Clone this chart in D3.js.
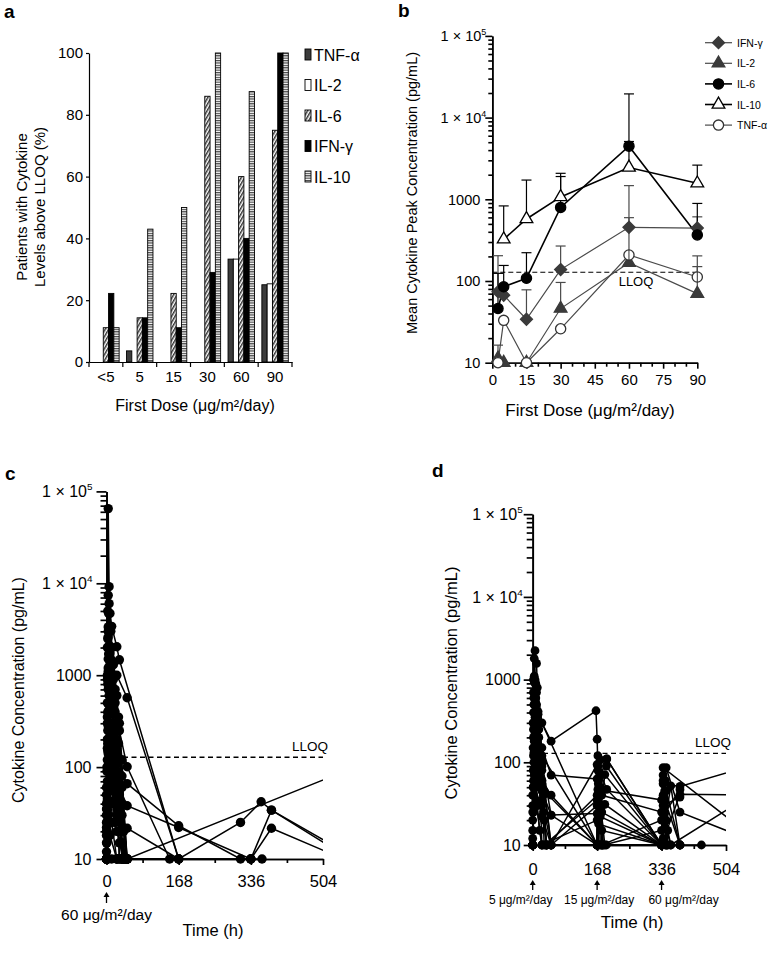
<!DOCTYPE html>
<html><head><meta charset="utf-8">
<script src="https://cdn.jsdelivr.net/npm/d3@7"></script>
<style>
body{margin:0;background:#fff}
text{font-family:"Liberation Sans",Arial,sans-serif;fill:#000}
</style>
</head><body>
<svg id="fig" width="774" height="955"></svg>
<script>
// ---------------- DATA ----------------
// Panel a: % patients with cytokine levels above LLOQ
const barCategories = ["<5","5","15","30","60","90"];
const barSeries = ["TNF-α","IL-2","IL-6","IFN-γ","IL-10"];
const barTNF  = [0, 3.6, 0, 0, 33.3, 25];
const barIL2  = [0, 0, 0, 0, 33.3, 25.3];
const barIL6  = [11.1, 14.3, 22.2, 86, 60, 75];
const barIFN  = [22.2, 14.3, 11.1, 29, 40, 100];
const barIL10 = [11.1, 43, 50, 100, 87.5, 100];
const barYTicks = [0, 20, 40, 60, 80, 100];

// Panel b: mean cytokine peak concentration vs first dose
const peakDoses = [2.5, 5, 15, 30, 60, 90];
const peakIFN   = [74, 67, 34, 138, 454, 445];
const peakIL2   = [11.3, 10, 10, 46, 167, 70];
const peakIL6   = [46, 85, 108, 796, 4470, 366];
const peakIL10  = [null, 324, 574, 1070, 2450, 1570];
const peakTNF   = [10, 33, 10, 26, 208, 112];
const errIFN    = [204, null, 78, 268, 1470, 610];
const errIL2    = [16.4, null, null, 96, null, 150];
const errIL6    = [124, 155, 222, 1900, 19500, 890];
const errIL10   = [null, 830, 1720, 2080, 5100, 2620];
const errTNF    = [null, null, null, null, 596, 203];
const peakLegend = ["IFN-γ","IL-2","IL-6","IL-10","TNF-α"];
const doseTicks = [0, 15, 30, 45, 60, 75, 90];
const doseMinorTicks = [5, 10, 20, 25, 35, 40, 50, 55, 65, 70, 80, 85];
const logMajorTicks = [10, 100, 1000, 10000, 100000];
const LLOQ = 128;

// Panel c: individual cytokine profiles, 60 µg/m²/day (time h, pg/mL)
const seriesC = [
  [[0,10],[2,2000],[4,65000],[6,9200],[8,4700],[12,2000],[24,600],[48,10]],
  [[0,10],[2,900],[4,7400],[6,6000],[12,3400],[24,2040],[30,1470],[168,10]],
  [[0,20],[2,350],[4,3350],[8,1800],[12,1050],[24,1000],[48,569],[168,10]],
  [[0,30],[2,200],[4,1200],[8,700],[24,300],[30,249],[48,101],[147,10]],
  [[0,10],[2,120],[4,500],[6,380],[12,200],[24,110],[48,66],[168,23],[312,10],[336,10]],
  [[0,15],[2,70],[4,280],[8,150],[24,70],[48,38],[168,22],[336,10],[362,10]],
  [[0,10],[2,45],[4,140],[6,90],[12,55],[24,35],[48,21.6],[168,10]],
  [[0,10],[2,25],[4,60],[8,40],[24,20],[48,10],[168,10],[312,25],[360,42],[384,34],[600,9]],
  [[0,10],[4,30],[8,18],[24,10],[48,10],[600,110]],
  [[0,12],[2,500],[4,2600],[6,1900],[12,800],[24,250],[36,10]],
  [[0,10],[1,90],[4,1500],[8,950],[12,420],[24,120],[30,10]],
  [[0,50],[2,160],[4,380],[8,220],[12,100],[24,45],[30,10]],
  [[0,10],[2,20],[4,10],[12,10],[24,10],[48,10],[336,10],[384,21.6],[600,8]],
  [[0,10],[4,700],[6,420],[24,160],[30,85],[36,10]],
  [[0,25],[2,1000],[4,3000],[8,1700],[12,600],[24,130],[36,40],[48,10]],
  [[0,10],[6,40],[12,25],[24,10],[336,10],[384,34],[600,8]],
  [[0,40],[2,300],[4,1100],[6,2100],[8,1300],[12,500],[24,200],[30,60],[36,10]],
  [[0,10],[2,60],[4,180],[8,90],[24,30],[36,15],[48,10]],
  [[0,10],[3,400],[6,1200],[10,800],[16,400],[20,250],[30,120],[36,60],[48,10]],
  [[0,18],[1,35],[3,90],[8,300],[16,180],[24,90],[36,30],[48,10]],
  [[0,10],[3,800],[5,4700],[10,3000],[16,1300],[20,700],[30,300],[40,10]],
  [[0,22],[3,150],[6,600],[10,450],[16,260],[20,140],[30,50],[40,20],[48,10]],
  [[0,10],[1,15],[3,45],[5,110],[10,70],[16,40],[20,25],[30,15],[40,10]],
  [[0,10],[3,2500],[5,1700],[10,1200],[16,900],[20,500],[28,350],[36,120],[44,10]],
  [[0,35],[1,100],[3,250],[6,180],[10,120],[16,80],[20,55],[28,30],[36,10]],
  [[0,10],[2,10],[3,30],[6,60],[10,150],[16,90],[24,50],[32,25],[40,10]],
  [[0,10],[3,5000],[5,3000],[10,1500],[16,700],[20,400],[28,180],[36,80],[44,10]],
  [[0,60],[3,180],[6,120],[10,90],[16,60],[20,40],[32,20],[44,10]]
];
// Panel d: individual cytokine profiles, step dosing 5/15/60
const seriesD = [
  [[0,10],[2,250],[6,2240],[10,1570],[12,800],[24,300],[48,180],[165,420],[168,190],[176,10],[192,10],[336,10],[384,10]],
  [[0,10],[2,120],[4,950],[8,600],[24,150],[48,70],[168,63],[172,10],[336,10],[340,55],[384,51],[600,100]],
  [[0,20],[2,80],[4,400],[8,300],[24,60],[48,40],[168,10],[170,120],[193,110],[336,10],[384,41],[600,40]],
  [[0,10],[4,300],[8,180],[24,45],[48,23],[168,24],[188,31],[336,10],[348,86],[384,25],[600,10]],
  [[0,10],[2,40],[4,150],[14,410],[24,120],[168,10],[188,71],[336,10],[340,86],[600,10]],
  [[0,10],[2,60],[4,250],[8,100],[24,35],[48,10],[168,94],[193,47],[336,10],[360,52],[384,10],[440,10]],
  [[0,30],[2,700],[4,1100],[6,500],[12,200],[24,80],[48,10],[168,10],[170,47],[336,35],[360,10],[600,50]],
  [[0,10],[1,300],[2,1000],[4,600],[8,250],[24,90],[48,10],[168,10],[176,107],[192,90],[336,10],[348,45],[384,10]],
  [[0,15],[2,50],[4,180],[8,400],[14,380],[168,10],[180,10],[336,10],[344,24],[384,47]],
  [[0,10],[4,80],[8,50],[24,22],[48,10],[168,10],[172,60],[193,110],[336,10],[338,10]],
  [[0,40],[2,200],[4,500],[6,350],[24,100],[48,23],[168,10],[336,10],[340,40],[384,10]],
  [[0,10],[2,25],[4,70],[8,35],[24,10],[48,10],[168,30],[180,40],[336,25],[360,10]],
  [[0,10],[2,400],[4,1800],[8,900],[12,400],[24,10],[168,10],[176,22],[336,10],[340,30],[384,38]],
  [[0,10],[2,30],[4,120],[6,220],[12,70],[24,30],[36,10],[168,40],[172,18],[336,10]],
  [[0,10],[1,150],[3,600],[6,900],[10,500],[16,200],[20,90],[28,40],[36,10],[168,10],[170,80],[176,50],[180,25],[336,10],[340,60],[344,35],[348,10]],
  [[0,12],[3,300],[5,700],[10,350],[16,150],[24,60],[30,20],[36,10],[168,10],[172,40],[178,28],[188,10],[336,10],[338,20],[344,45],[352,15]],
  [[0,10],[3,100],[6,400],[10,220],[16,120],[24,55],[30,10],[168,35],[170,90],[176,70],[184,10],[336,15],[340,70],[344,30],[350,10]],
  [[0,25],[2,80],[5,200],[10,160],[16,90],[20,50],[28,25],[36,10],[168,10],[171,55],[175,30],[180,15],[336,10],[342,25],[346,60],[352,10]],
  [[0,10],[3,500],[6,1000],[10,700],[16,250],[24,100],[30,45],[168,10],[170,30],[174,75],[182,10],[336,10],[341,40],[348,20]],
  [[0,10],[1,50],[3,130],[6,60],[12,30],[18,15],[24,10],[168,20],[172,45],[180,10],[336,20],[340,12],[346,10]]
];
const timeTicks = [0, 168, 336, 504];
const timeMinorTicks = [84, 252, 420];
const doseLabelsD = ["5 μg/m²/day","15 μg/m²/day","60 μg/m²/day"];
const doseTimesD = [0, 168, 336];

// ---------------- DRAWING ----------------
const svg = d3.select("#fig");
const defs = svg.append("defs");
const hatch = defs.append("pattern").attr("id","hatch").attr("patternUnits","userSpaceOnUse")
  .attr("width",3).attr("height",3).attr("patternTransform","rotate(30)");
hatch.append("rect").attr("width",3).attr("height",3).attr("fill","#fff");
hatch.append("line").attr("x1",0.8).attr("x2",0.8).attr("y1",0).attr("y2",3).attr("stroke","#000").attr("stroke-width",1.2);
const hs = defs.append("pattern").attr("id","hstripe").attr("patternUnits","userSpaceOnUse")
  .attr("width",4).attr("height",2.4);
hs.append("rect").attr("width",4).attr("height",2.4).attr("fill","#fff");
hs.append("line").attr("x1",0).attr("x2",4).attr("y1",0.6).attr("y2",0.6).attr("stroke","#444").attr("stroke-width",1.2);

function styleAxis(g, w){
  g.select(".domain").attr("stroke","#000").attr("stroke-width",w);
  g.selectAll(".tick line").attr("stroke","#000").attr("stroke-width",w);
}
function panelLabel(t,x,y){
  svg.append("text").attr("x",x).attr("y",y).attr("font-size",19).attr("font-weight","bold").text(t);
}

// ===== Panel a =====
{
  const xA = d3.scaleBand().domain(barCategories).range([89,292]);
  const xIn = d3.scaleBand().domain(barSeries).range([0,xA.bandwidth()]).paddingOuter(0.7);
  const yA = d3.scaleLinear().domain([0,100]).range([362,53]);
  const vals = [barTNF, barIL2, barIL6, barIFN, barIL10];
  const fills = ["#3c3c3c","#fff","url(#hatch)","#000","url(#hstripe)"];
  const g = svg.append("g");
  barSeries.forEach((s,si)=>{
    g.append("g").selectAll("rect").data(barCategories.map((c,i)=>({c,v:vals[si][i]})).filter(d=>d.v>0))
      .join("rect")
      .attr("x",d=>xA(d.c)+xIn(s)).attr("width",xIn.bandwidth())
      .attr("y",d=>yA(d.v)).attr("height",d=>yA(0)-yA(d.v))
      .attr("fill",fills[si]).attr("stroke","#000").attr("stroke-width",0.9);
  });
  const ya = g.append("g").attr("transform","translate(89,0)")
    .call(d3.axisLeft(yA).tickValues(barYTicks).tickSize(3).tickPadding(3).tickSizeOuter(0));
  styleAxis(ya,1.2); ya.selectAll("text").attr("font-size",15).attr("font-family",'"Liberation Sans",Arial,sans-serif');
  const xa = g.append("g").attr("transform","translate(0,362)")
    .call(d3.axisBottom(xA).tickSize(0).tickPadding(9.5).tickSizeOuter(0));
  styleAxis(xa,1.2); xa.selectAll("text").attr("font-size",15).attr("font-family",'"Liberation Sans",Arial,sans-serif');
  const bounds = barCategories.map(c=>xA(c)).concat([xA.range()[1]]);
  g.append("g").selectAll("line").data(bounds).join("line")
    .attr("x1",d=>d).attr("x2",d=>d).attr("y1",362).attr("y2",367).attr("stroke","#000").attr("stroke-width",1.2);
  const lg = g.append("g");
  barSeries.forEach((s,i)=>{
    const y = 55 + i*30.5;
    lg.append("rect").attr("x",305).attr("y",y-6).attr("width",6).attr("height",11)
      .attr("fill",fills[i]).attr("stroke","#000").attr("stroke-width",0.9);
    lg.append("text").attr("x",314).attr("y",y+5.5).attr("font-size",16).text(s);
  });
  g.append("text").attr("x",195).attr("y",411).attr("text-anchor","middle").attr("font-size",16).text("First Dose (μg/m²/day)");
  const yl = g.append("text").attr("transform","translate(27,207) rotate(-90)").attr("text-anchor","middle").attr("font-size",15);
  yl.append("tspan").attr("x",0).attr("dy",0).text("Patients with Cytokine");
  yl.append("tspan").attr("x",0).attr("dy",18).text("Levels above LLOQ (%)");
  panelLabel("a",4,18);
}

function logAxis(g, y, x, o){
  const minors = [];
  for (let e=1;e<5;e++) for (let m=2;m<10;m++) minors.push(m*Math.pow(10,e));
  const mg = g.append("g").attr("transform",`translate(${x},0)`)
    .call(d3.axisLeft(y).tickValues(minors).tickSize(o.minor).tickSizeOuter(0).tickFormat(""));
  styleAxis(mg,o.w);
  const ag = g.append("g").attr("transform",`translate(${x},0)`)
    .call(d3.axisLeft(y).tickValues(logMajorTicks).tickSize(o.major).tickSizeOuter(0).tickFormat(""));
  styleAxis(ag,o.w);
  logMajorTicks.forEach(v=>{
    const t = g.append("text").attr("text-anchor","end").attr("font-size",o.fs).attr("y",y(v)+o.fs*0.36);
    if (v < 1e4){ t.attr("x",x-o.gap).text(String(v)); }
    else {
      t.attr("x",x-o.gap2).text("1 × 10");
      t.append("tspan").attr("dy",-o.fs*0.42).attr("font-size",o.fs*0.62).text(Math.round(Math.log10(v)));
    }
  });
}
function linearTimeAxis(g, xs, yb, o){
  const mg = g.append("g").attr("transform",`translate(0,${yb})`)
    .call(d3.axisBottom(xs).tickValues(timeMinorTicks).tickSize(4).tickSizeOuter(0).tickFormat(""));
  styleAxis(mg,o.w);
  const ag = g.append("g").attr("transform",`translate(0,${yb})`)
    .call(d3.axisBottom(xs).tickValues(timeTicks).tickSize(6).tickPadding(o.pad).tickSizeOuter(0));
  styleAxis(ag,o.w);
  ag.selectAll("text").attr("font-size",o.fs).attr("font-family",'"Liberation Sans",Arial,sans-serif');
}
function arrow(g,x,y1,y2){
  g.append("line").attr("x1",x).attr("x2",x).attr("y1",y1+3).attr("y2",y2).attr("stroke","#000").attr("stroke-width",1.3);
  g.append("path").attr("d",`M${x-3},${y1+4}L${x},${y1-1}L${x+3},${y1+4}Z`).attr("fill","#000");
}

// ===== Panel b =====
{
  const g = svg.append("g");
  const xB = d3.scaleLinear().domain([0,90]).range([492.3,697.3]);
  const yB = d3.scaleLog().domain([10,1e5]).range([362.7,35.9]);
  const xm = g.append("g").attr("transform","translate(0,362.7)")
    .call(d3.axisBottom(xB).tickValues(doseMinorTicks).tickSize(4).tickSizeOuter(0).tickFormat(""));
  styleAxis(xm,1.6);
  const xa = g.append("g").attr("transform","translate(0,362.7)")
    .call(d3.axisBottom(xB).tickValues(doseTicks).tickSize(6).tickPadding(6).tickSizeOuter(0));
  styleAxis(xa,1.6); xa.selectAll("text").attr("font-size",15).attr("font-family",'"Liberation Sans",Arial,sans-serif');
  logAxis(g, yB, 492.3, {minor:4, major:7, w:1.6, fs:14.5, gap:12, gap2:6});
  g.append("line").attr("x1",xB(0)).attr("x2",xB(90)).attr("y1",yB(LLOQ)).attr("y2",yB(LLOQ))
    .attr("stroke","#000").attr("stroke-width",1.2).attr("stroke-dasharray","5,3");
  g.append("text").attr("x",636).attr("y",yB(LLOQ)+14).attr("text-anchor","middle").attr("font-size",13).text("LLOQ");

  const series = [
    {name:"IFN-γ", v:peakIFN, e:errIFN, sym:"diamond", fill:"#3a3a3a", stroke:"#3a3a3a", line:"#4a4a4a", lw:1.2},
    {name:"IL-2",  v:peakIL2, e:errIL2, sym:"tri",     fill:"#3a3a3a", stroke:"#3a3a3a", line:"#4a4a4a", lw:1.2},
    {name:"IL-6",  v:peakIL6, e:errIL6, sym:"circle",  fill:"#000",    stroke:"#000",    line:"#000",    lw:1.6},
    {name:"IL-10", v:peakIL10,e:errIL10,sym:"tri",     fill:"#fff",    stroke:"#000",    line:"#000",    lw:1.6},
    {name:"TNF-α", v:peakTNF, e:errTNF, sym:"circle",  fill:"#fff",    stroke:"#333",    line:"#4a4a4a", lw:1.2}
  ];
  const symPath = {
    diamond: "M0,-6L6,0L0,6L-6,0Z",
    tri: d3.symbol(d3.symbolTriangle, 70)(),
    circle: d3.symbol(d3.symbolCircle, 82)()
  };
  const line = d3.line().defined(d=>d[1]!=null).x(d=>xB(d[0])).y(d=>yB(d[1]));
  series.forEach(s=>{
    g.append("path").datum(peakDoses.map((x,i)=>[x,s.v[i]])).attr("d",line)
      .attr("fill","none").attr("stroke",s.line).attr("stroke-width",s.lw);
  });
  function errBars(s){
    peakDoses.forEach((x,i)=>{
      if (s.e[i]==null || s.v[i]==null) return;
      g.append("line").attr("x1",xB(x)).attr("x2",xB(x)).attr("y1",yB(s.v[i])).attr("y2",yB(s.e[i]))
        .attr("stroke",s.line).attr("stroke-width",1.2);
      g.append("line").attr("x1",xB(x)-5).attr("x2",xB(x)+5).attr("y1",yB(s.e[i])).attr("y2",yB(s.e[i]))
        .attr("stroke",s.line).attr("stroke-width",1.2);
    });
  }
  series.forEach(s=>errBars(s));
  series.forEach(s=>{
    g.append("g").selectAll("path").data(peakDoses.map((x,i)=>[x,s.v[i]]).filter(d=>d[1]!=null)).join("path")
      .attr("d",symPath[s.sym]).attr("transform",d=>`translate(${xB(d[0])},${yB(d[1])})`)
      .attr("fill",s.fill).attr("stroke",s.stroke).attr("stroke-width",1.3);
  });
  peakDoses.forEach((x,i)=>{
    if (errTNF[i]!=null) g.append("line").attr("x1",xB(x)).attr("x2",xB(x)).attr("y1",yB(peakTNF[i])+5).attr("y2",yB(peakTNF[i])-5).attr("stroke","#333").attr("stroke-width",1);
  });
  series.forEach((s,i)=>{
    const y = 42.7 + i*20.6;
    g.append("line").attr("x1",705).attr("x2",732).attr("y1",y).attr("y2",y).attr("stroke",s.line).attr("stroke-width",s.lw);
    g.append("path").attr("d",symPath[s.sym]).attr("transform",`translate(718.5,${y})`)
      .attr("fill",s.fill).attr("stroke",s.stroke).attr("stroke-width",1.3);
    g.append("text").attr("x",737).attr("y",y+4).attr("font-size",10.5).text(peakLegend[i]);
  });
  g.append("text").attr("x",590).attr("y",416).attr("text-anchor","middle").attr("font-size",17).text("First Dose (μg/m²/day)");
  g.append("text").attr("transform","translate(417,193) rotate(-90)").attr("text-anchor","middle").attr("font-size",14.5)
    .text("Mean Cytokine Peak Concentration (pg/mL)");
  panelLabel("b",398,17);
}

function spaghetti(g, data, xs, ys, r, id){
  const x504 = xs(504);
  defs.append("clipPath").attr("id",id).append("rect").attr("x",0).attr("y",0).attr("width",x504).attr("height",955);
  const line = d3.line().x(d=>xs(d[0])).y(d=>ys(d[1]));
  const lg = g.append("g").attr("clip-path",`url(#${id})`);
  lg.selectAll("path").data(data).join("path").attr("d",line)
    .attr("fill","none").attr("stroke","#000").attr("stroke-width",1.5);
  const pts = data.flat().filter(d=>d[0]<=504);
  g.append("g").selectAll("circle").data(pts).join("circle")
    .attr("cx",d=>xs(d[0])).attr("cy",d=>ys(d[1])).attr("r",r).attr("fill","#000");
}

// ===== Panel c =====
{
  const g = svg.append("g");
  const xC = d3.scaleLinear().domain([0,504]).range([106.5,323]);
  const yC = d3.scaleLog().domain([10,1e5]).range([859,491.4]);
  g.append("line").attr("x1",123).attr("x2",xC(504)).attr("y1",yC(LLOQ)).attr("y2",yC(LLOQ))
    .attr("stroke","#000").attr("stroke-width",1.3).attr("stroke-dasharray","5,3.5");
  g.append("text").attr("x",310).attr("y",yC(LLOQ)-6).attr("text-anchor","middle").attr("font-size",13.5).text("LLOQ");
  spaghetti(g, seriesC, xC, yC, 4.7, "clipC");
  linearTimeAxis(g, xC, 859, {w:1.7, fs:16.5, pad:10});
  logAxis(g, yC, xC(0), {minor:6, major:10, w:1.7, fs:16, gap:15, gap2:14});
  arrow(g, xC(0), 893, 903);
  g.append("text").attr("x",xC(0)).attr("y",920).attr("text-anchor","middle").attr("font-size",15.5).text("60 μg/m²/day");
  g.append("text").attr("x",213).attr("y",936).attr("text-anchor","middle").attr("font-size",16.5).text("Time (h)");
  g.append("text").attr("transform","translate(24,690) rotate(-90)").attr("text-anchor","middle").attr("font-size",16)
    .text("Cytokine Concentration (pg/mL)");
  panelLabel("c",5,480);
}

// ===== Panel d =====
{
  const g = svg.append("g");
  const xD = d3.scaleLinear().domain([0,504]).range([532.7,726]);
  const yD = d3.scaleLog().domain([10,1e5]).range([845,514.2]);
  g.append("line").attr("x1",543).attr("x2",xD(504)).attr("y1",yD(LLOQ)).attr("y2",yD(LLOQ))
    .attr("stroke","#000").attr("stroke-width",1.3).attr("stroke-dasharray","5,3.5");
  g.append("text").attr("x",713).attr("y",yD(LLOQ)-6).attr("text-anchor","middle").attr("font-size",13.5).text("LLOQ");
  spaghetti(g, seriesD, xD, yD, 4.4, "clipD");
  linearTimeAxis(g, xD, 845, {w:1.7, fs:16.5, pad:12});
  logAxis(g, yD, xD(0), {minor:6, major:9, w:1.7, fs:16, gap:12, gap2:10});
  const offs = [-12, 2, 22];
  doseTimesD.forEach((t,i)=>{
    arrow(g, xD(t), 881, 890);
    g.append("text").attr("x",xD(t)+offs[i]).attr("y",904).attr("text-anchor","middle").attr("font-size",12).text(doseLabelsD[i]);
  });
  g.append("text").attr("x",632).attr("y",928).attr("text-anchor","middle").attr("font-size",17).text("Time (h)");
  g.append("text").attr("transform","translate(457,683) rotate(-90)").attr("text-anchor","middle").attr("font-size",16.5)
    .text("Cytokine Concentration (pg/mL)");
  panelLabel("d",432,477);
}
</script>
</body></html>
